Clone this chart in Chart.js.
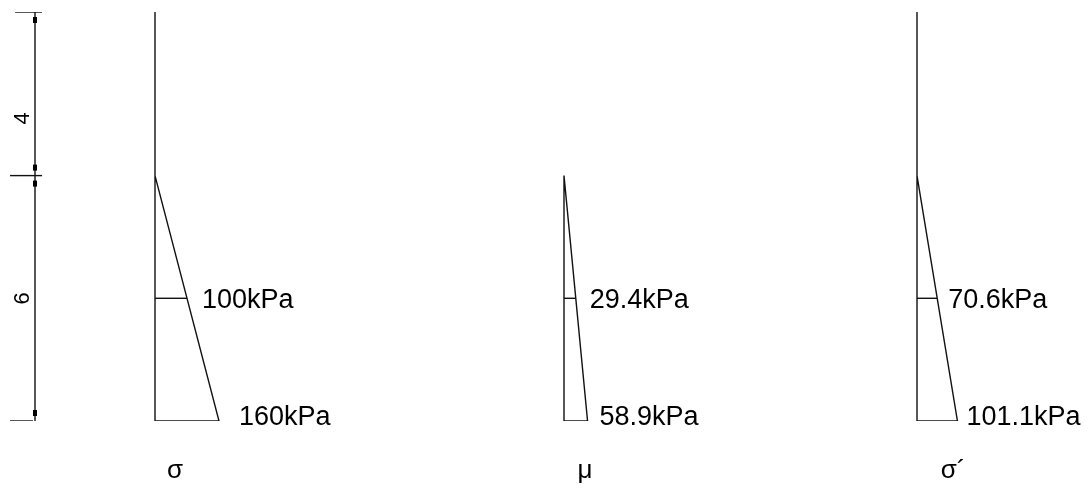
<html lang="en">
<head>
<meta charset="utf-8">
<script src="https://cdn.jsdelivr.net/npm/chart.js"></script>
<title>Stress diagrams</title>
<style>
    body { margin: 0; background: #ffffff; }
    #wrap { width: 1089px; height: 492px; }
</style>
</head>
<body>
<div id="wrap"><canvas id="stress" width="1089" height="492"></canvas></div>
<script>
    // depths in m (top of profile, water table, mid point, base)
    const depthTop = 0, depthWater = 4, depthMid = 7, depthBase = 10;
    const dimTicks = [0, 4, 10];
    const dimLabels = ['4', '6'];
    const dimLabelDepth = [2.6, 7];

    const panelNames = ['σ', 'μ', 'σ´'];
    const lineStart = [0, 4, 0];          // depth where the vertical line begins
    const midValues = [100, 29.4, 70.6];  // kPa, written at depth 7
    const baseValues = [160, 58.9, 101.1];// kPa, at depth 10
    const midDrawn = [80, 29.4, 50.5];    // length of the mark drawn at depth 7 (kPa)

    // layout (drawing units = px on a 1089 wide sheet)
    const PX_PER_KPA = 0.4;
    const panelX = [155, 564, 917];
    const nameX = [175, 585, 953];
    const midGap = [15, 14, 11];
    const baseGap = [20, 12, 9];
    const dimX = 35;

    var sets = [];
    var line = { showLine: true, borderColor: '#111', borderWidth: 1.4, pointRadius: 0, fill: false, tension: 0 };

    for (var i = 0; i < panelNames.length; i++) {
        var o = panelX[i];
        sets.push(Object.assign({}, line, { data: [
            {x: o, y: lineStart[i]},
            {x: o, y: depthBase},
            {x: o + baseValues[i] * PX_PER_KPA, y: depthBase},
            {x: o, y: depthWater}
        ]}));
        sets.push(Object.assign({}, line, { data: [
            {x: o, y: depthMid},
            {x: o + midDrawn[i] * PX_PER_KPA, y: depthMid}
        ]}));
    }
    // dimension line + ticks
    sets.push(Object.assign({}, line, { data: [{x: dimX, y: depthTop}, {x: dimX, y: depthBase}] }));
    var tickL = [15, 10, 10], tickR = [42, 42, 33];
    dimTicks.forEach(function (d, k) {
        sets.push(Object.assign({}, line, { data: [{x: tickL[k], y: d}, {x: tickR[k], y: d}] }));
    });

    const labels = {
        id: 'labels',
        afterDraw: function (chart) {
            var c = chart.ctx, xs = chart.scales.x, ys = chart.scales.y;
            c.save();
            c.fillStyle = '#000';
            // dimension dots
            var dx = xs.getPixelForValue(dimX);
            dimTicks.forEach(function (d, k) {
                var py = ys.getPixelForValue(d);
                if (k < dimTicks.length - 1) c.fillRect(dx - 2, py + 5, 4, 6);
                if (k > 0) c.fillRect(dx - 2, py - 11, 4, 6);
            });
            // dimension texts
            c.font = '22px "Liberation Sans", Arial, sans-serif';
            c.textAlign = 'center';
            c.textBaseline = 'middle';
            dimLabels.forEach(function (t, k) {
                c.save();
                c.translate(23, ys.getPixelForValue(dimLabelDepth[k]));
                c.rotate(-Math.PI / 2);
                c.fillText(t, 0, 0);
                c.restore();
            });
            // stress values
            c.font = '27px "Liberation Sans", Arial, sans-serif';
            c.textAlign = 'left';
            c.textBaseline = 'alphabetic';
            for (var i = 0; i < panelNames.length; i++) {
                var o = panelX[i];
                c.fillText(midValues[i] + 'kPa', xs.getPixelForValue(o + midDrawn[i] * PX_PER_KPA + midGap[i]), ys.getPixelForValue(depthMid) + 10);
                c.fillText(baseValues[i] + 'kPa', xs.getPixelForValue(o + baseValues[i] * PX_PER_KPA + baseGap[i]), ys.getPixelForValue(depthBase) + 4);
            }
            // panel names
            c.font = '26px "Liberation Sans", Arial, sans-serif';
            c.textAlign = 'center';
            for (var i = 0; i < panelNames.length; i++) {
                c.fillText(panelNames[i], nameX[i], 478);
            }
            c.restore();
        }
    };

    new Chart('stress', {
        type: 'scatter',
        data: { datasets: sets },
        options: {
            responsive: false,
            animation: false,
            events: [],
            layout: { padding: { top: 12, bottom: 71, left: 0, right: 0 } },
            plugins: { legend: { display: false }, tooltip: { enabled: false } },
            scales: {
                x: { type: 'linear', min: 0, max: 1089, display: false },
                y: { type: 'linear', min: 0, max: 10, reverse: true, display: false }
            }
        },
        plugins: [labels]
    });
</script>
</body>
</html>
